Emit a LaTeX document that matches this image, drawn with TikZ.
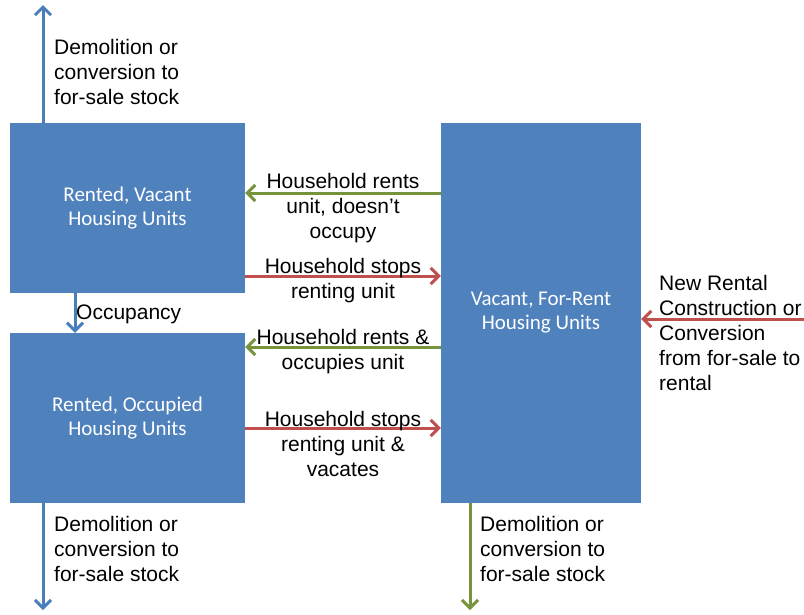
\documentclass[tikz,border=0pt]{standalone}
\usepackage{fontspec}
\setmainfont{Liberation Sans}
\newfontfamily\boxfont{Carlito}
\usetikzlibrary{arrows.meta,positioning}

\definecolor{unitblue}{HTML}{4F81BD}
\definecolor{flowblue}{HTML}{4A7EBB}
\definecolor{flowgreen}{HTML}{77933C}
\definecolor{flowred}{HTML}{C0504D}

\begin{document}
\begin{tikzpicture}[x=1pt,y=-1pt,
  unitbox/.style={fill=unitblue, draw=none, text=white, align=center,
    font=\boxfont\fontsize{21}{24}\selectfont, inner sep=0pt},
  flow/.style={line width=3pt, -{Straight Barb[length=8pt,width=16pt]}},
  lbl/.style={font=\fontsize{21}{25}\selectfont, inner sep=0pt}]
  \useasboundingbox (0,0) rectangle (804,614);
  % Housing unit boxes
  \node[unitbox, minimum width=235pt, minimum height=170pt] (vacant) at (127.5,208) {Rented, Vacant\\Housing Units};
  \node[unitbox, minimum width=235pt, minimum height=170pt] (occupied) at (127.5,418) {Rented, Occupied\\Housing Units};
  \node[unitbox, minimum width=200pt, minimum height=380pt] (forrent) at (541,313) {Vacant, For-Rent\\Housing Units};
  % Free ends of the outer flows
  \coordinate (demtop) at (43,5);
  \coordinate (dembot) at (43,610);
  \coordinate (demright) at (470,610);
  \coordinate (newrental) at (804,319);
  % Flows out of the stock
  \draw[flow, flowblue] (vacant.north -| demtop) -- (demtop);
  \draw[flow, flowblue] (occupied.south -| dembot) -- (dembot);
  \draw[flow, flowgreen] (forrent.south -| demright) -- (demright);
  % Flows into the for-rent stock
  \draw[flow, flowred] (newrental) -- (forrent.east |- newrental);
  % Flows between the boxes
  \draw[flow, flowgreen] (forrent.west |- 0,193) -- (vacant.east |- 0,193);
  \draw[flow, flowred] (vacant.east |- 0,276) -- (forrent.west |- 0,276);
  \draw[flow, flowgreen] (forrent.west |- 0,347) -- (occupied.east |- 0,347);
  \draw[flow, flowred] (occupied.east |- 0,428) -- (forrent.west |- 0,428);
  \draw[flow, flowblue] (vacant.south -| 75,0) -- (occupied.north -| 75,0);
  % Labels
  \node[lbl, anchor=north west, align=left] (demtoplbl) at (54,39) {Demolition or\\conversion to\\for-sale stock};
  \node[lbl, anchor=north west, align=left] (demleftlbl) at (54,516) {Demolition or\\conversion to\\for-sale stock};
  \node[lbl, anchor=north west, align=left] (demrightlbl) at (480,516) {Demolition or\\conversion to\\for-sale stock};
  \node[lbl, anchor=north west, align=left] (newlbl) at (659,275) {New Rental\\Construction or\\Conversion\\from for-sale to\\rental};
  \node[lbl, anchor=north west] (occlbl) at (76,305) {Occupancy};
  \node[lbl, anchor=north, align=center] (rentslbl) at (343,173) {Household rents\\unit, doesn’t\\occupy};
  \node[lbl, anchor=north, align=center] (stopslbl) at (343,258) {Household stops\\renting unit};
  \node[lbl, anchor=north, align=center] (occupieslbl) at (343,329) {Household rents \&\\occupies unit};
  \node[lbl, anchor=north, align=center] (vacateslbl) at (343,411) {Household stops\\renting unit \&\\vacates};
\end{tikzpicture}
\end{document}
